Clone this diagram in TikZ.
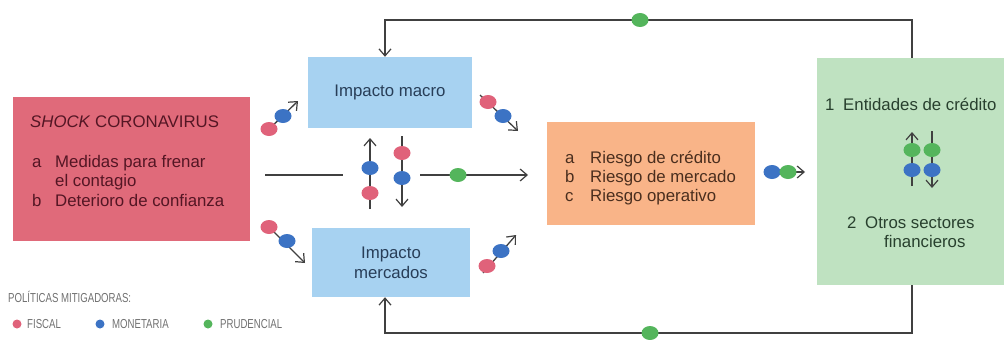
\documentclass[tikz,border=0pt]{standalone}
\usepackage{fontspec}
\setmainfont{Liberation Sans}
\newfontfamily\condfont[FakeStretch=0.74]{Liberation Sans}
\usetikzlibrary{arrows.meta,shapes.geometric}
\definecolor{shockfill}{RGB}{224,106,122}
\definecolor{shocktext}{RGB}{84,22,36}
\definecolor{bluefill}{RGB}{167,210,241}
\definecolor{bluetext}{RGB}{40,62,88}
\definecolor{orangefill}{RGB}{249,180,136}
\definecolor{orangetext}{RGB}{74,46,30}
\definecolor{greenfill}{RGB}{191,226,193}
\definecolor{greentext}{RGB}{40,64,46}
\definecolor{dotred}{RGB}{224,98,122}
\definecolor{dotblue}{RGB}{60,115,196}
\definecolor{dotgreen}{RGB}{84,181,92}
\definecolor{linec}{RGB}{64,64,64}
\definecolor{legtext}{RGB}{112,112,112}
\tikzset{
  box/.style={draw=none, inner sep=0pt, align=center},
  txt/.style={anchor=base west, inner sep=0pt, font=\fontsize{16.8}{20}\selectfont},
  conn/.style={draw=linec, line width=1.3pt},
  arr/.style={conn, -{Straight Barb[length=7pt,width=12pt,line width=1.2pt]}},
  dot/.style={ellipse, minimum width=17pt, minimum height=14pt, inner sep=0pt, draw=none},
  rdot/.style={dot, fill=dotred},
  bdot/.style={dot, fill=dotblue},
  gdot/.style={dot, fill=dotgreen},
  ldot/.style={circle, minimum size=9pt, inner sep=0pt, draw=none},
  legtxt/.style={anchor=base west, inner sep=0pt, text=legtext, font=\condfont\fontsize{13}{15}\selectfont},
}
\begin{document}
\begin{tikzpicture}[x=1pt,y=-1pt]
\useasboundingbox (0,0) rectangle (1004,340);
% boxes
\node[box, fill=shockfill, minimum width=237pt, minimum height=144pt] (shock) at (131.5,169) {};
\node[box, fill=bluefill, minimum width=164pt, minimum height=71pt, text=bluetext, font=\fontsize{16.8}{20}\selectfont] (macro) at (390,92.5) {Impacto macro};
\node[box, fill=bluefill, minimum width=158pt, minimum height=69pt, text=bluetext, font=\fontsize{16.8}{20}\selectfont] (merc) at (391,262.5) {Impacto\\mercados};
\node[box, fill=orangefill, minimum width=208pt, minimum height=103pt] (risk) at (651,173.5) {};
\node[box, fill=greenfill, minimum width=190pt, minimum height=227pt] (fin) at (912,171.5) {};
% shock text
\node[txt, text=shocktext] (st0) at (30,127) {\textit{SHOCK} CORONAVIRUS};
\node[txt, text=shocktext] (sa) at (32,167) {a};
\node[txt, text=shocktext] (st1) at (55,167) {Medidas para frenar};
\node[txt, text=shocktext] (st2) at (55,186) {el contagio};
\node[txt, text=shocktext] (sb) at (32,206) {b};
\node[txt, text=shocktext] (st3) at (55,206) {Deterioro de confianza};
% risk text
\node[txt, text=orangetext] (ra) at (565,163) {a};
\node[txt, text=orangetext] (rt1) at (590,163) {Riesgo de crédito};
\node[txt, text=orangetext] (rb) at (565,182) {b};
\node[txt, text=orangetext] (rt2) at (590,182) {Riesgo de mercado};
\node[txt, text=orangetext] (rc) at (565,201) {c};
\node[txt, text=orangetext] (rt3) at (590,201) {Riesgo operativo};
% financial text
\node[txt, text=greentext] (f1) at (825,110) {1};
\node[txt, text=greentext] (ft1) at (843,110) {Entidades de crédito};
\node[txt, text=greentext] (f2) at (847,228) {2};
\node[txt, text=greentext] (ft2) at (865,228) {Otros sectores};
\node[txt, text=greentext] (ft3) at (884,247) {financieros};
% feedback loops
\coordinate (topL) at (385,20);
\coordinate (botL) at (385,333);
\draw[arr] (fin.north) -- (fin.north |- topL) -- (topL) -- (topL |- macro.north);
\draw[arr] (fin.south) -- (fin.south |- botL) -- (botL) -- (botL |- merc.south);
\node[gdot] (gtop) at (640,20) {};
\node[gdot] (gbot) at (650,333) {};
% central connectors
\coordinate (h1) at (265,175);
\coordinate (h2) at (343,175);
\coordinate (h3) at (420,175);
\coordinate (h4) at (528,175);
\draw[conn] (h1) -- (h2);
\draw[arr] (h3) -- (h4);
\node[gdot] (gh) at (458,175) {};
\coordinate (u1) at (370,209);
\coordinate (u2) at (370,138);
\draw[arr] (u1) -- (u2);
\node[bdot] (ub) at (370,168) {};
\node[rdot] (ur) at (370,193) {};
\coordinate (v1) at (402,136);
\coordinate (v2) at (402,207);
\draw[arr] (v1) -- (v2);
\node[rdot] (vr) at (402,153) {};
\node[bdot] (vb) at (402,178) {};
% diagonal arrows
\coordinate (a1s) at (264,134);
\coordinate (a1e) at (298,101);
\draw[arr] (a1s) -- (a1e);
\node[rdot] (a1r) at (269,129) {};
\node[bdot] (a1b) at (283,116) {};
\coordinate (a2s) at (480,95);
\coordinate (a2e) at (518,131);
\draw[arr] (a2s) -- (a2e);
\node[rdot] (a2r) at (488,102) {};
\node[bdot] (a2b) at (503,116) {};
\coordinate (a3s) at (264,222);
\coordinate (a3e) at (305,263);
\draw[arr] (a3s) -- (a3e);
\node[rdot] (a3r) at (269,227) {};
\node[bdot] (a3b) at (287,241) {};
\coordinate (a4s) at (483,273);
\coordinate (a4e) at (516,235);
\draw[arr] (a4s) -- (a4e);
\node[rdot] (a4r) at (487,266) {};
\node[bdot] (a4b) at (501,251) {};
% risk to financial
\coordinate (o1) at (770,172);
\coordinate (o2) at (805,172);
\draw[arr] (o1) -- (o2);
\node[bdot] (ob) at (772,172) {};
\node[gdot] (og) at (788,172) {};
% inside financial box
\coordinate (fu1) at (912,186);
\coordinate (fu2) at (912,132);
\draw[arr] (fu1) -- (fu2);
\node[gdot] (fug) at (912,150) {};
\node[bdot] (fub) at (912,170) {};
\coordinate (fd1) at (932,131);
\coordinate (fd2) at (932,188);
\draw[arr] (fd1) -- (fd2);
\node[gdot] (fdg) at (932,150) {};
\node[bdot] (fdb) at (932,170) {};
% legend
\node[legtxt] (lt) at (8,302) {POLÍTICAS MITIGADORAS:};
\node[ldot, fill=dotred] (l1) at (17,324) {};
\node[legtxt] (l1t) at (27,328) {FISCAL};
\node[ldot, fill=dotblue] (l2) at (100,324) {};
\node[legtxt] (l2t) at (112,328) {MONETARIA};
\node[ldot, fill=dotgreen] (l3) at (208,324) {};
\node[legtxt] (l3t) at (220,328) {PRUDENCIAL};
\end{tikzpicture}
\end{document}
